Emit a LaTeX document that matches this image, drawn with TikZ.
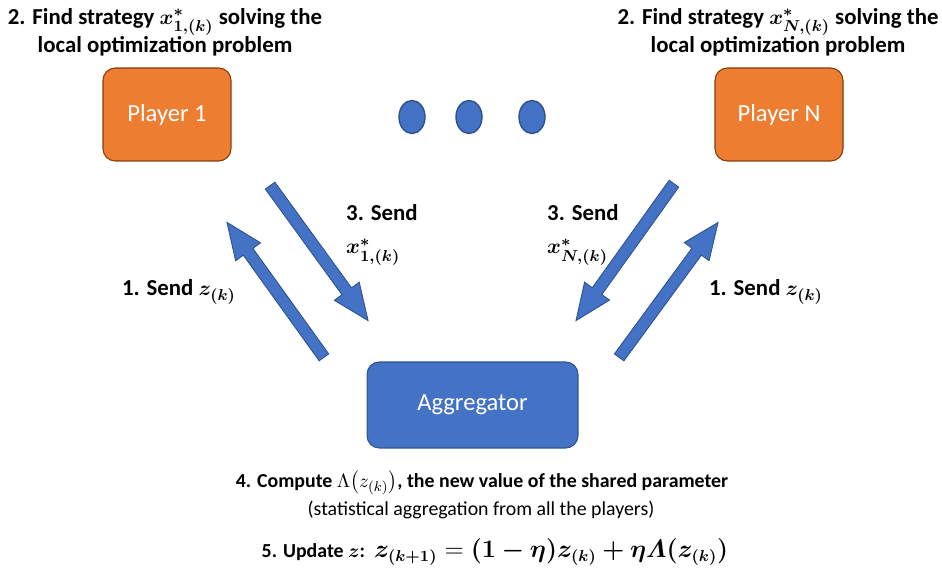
\documentclass[tikz,border=0pt]{standalone}
\usepackage{amsmath}
\usepackage{bm}
\usepackage{xcolor}
\usepackage{fontspec}
\setmainfont{Carlito}
\usetikzlibrary{shapes.geometric,shapes.arrows,calc}
\definecolor{playerfill}{HTML}{ED7D31}
\definecolor{playerline}{HTML}{843C0C}
\definecolor{aggfill}{HTML}{4472C4}
\definecolor{aggline}{HTML}{2F528F}

\begin{document}
\begin{tikzpicture}[x=0.02cm, y=-0.02cm,
              player/.style = {draw=playerline, fill=playerfill, line width=0.6pt, rounded corners=7pt,
                               minimum width=2.56cm, minimum height=1.86cm, text=white,
                               font=\fontsize{14}{17}\selectfont},
              aggbox/.style = {draw=aggline, fill=aggfill, line width=0.6pt, rounded corners=7pt,
                               minimum width=4.22cm, minimum height=1.72cm, text=white,
                               font=\fontsize{14}{17}\selectfont},
              dot/.style = {ellipse, draw=aggline, fill=aggfill, line width=0.8pt,
                            minimum width=0.52cm, minimum height=0.66cm, inner sep=0pt},
              blockarrow/.style = {single arrow, draw=aggline, fill=aggfill, line width=0.5pt,
                                   inner xsep=0pt, inner ysep=3.1pt, single arrow head extend=5.4pt,
                                   single arrow tip angle=46, single arrow head indent=0pt},
              steplabel/.style = {font=\bfseries\fontsize{13}{16}\selectfont, align=center},
              sendlabel/.style = {font=\bfseries\fontsize{13}{19}\selectfont, align=left, anchor=west},
              note/.style = {font=\fontsize{11.3}{14}\selectfont, align=center}]
  \useasboundingbox (0,0) rectangle (942,580);

  \node[steplabel] (find1) at (165,32) {2. Find strategy $\bm{x^{*}_{1,(k)}}$ solving the\\local optimization problem};
  \node[steplabel] (findN) at (778,32) {2. Find strategy $\bm{x^{*}_{N,(k)}}$ solving the\\local optimization problem};

  \node[player] (p1) at (167,114.5) {Player 1};
  \node[player] (pN) at (779,114.5) {Player N};

  \node[dot] (d1) at (412,117) {};
  \node[dot] (d2) at (469,117) {};
  \node[dot] (d3) at (532,117) {};

  \node[aggbox] (agg) at (472.5,405) {Aggregator};

  \coordinate (a1s) at (266,180);
  \coordinate (a1e) at (364,315);
  \coordinate (b1s) at (328,363);
  \coordinate (b1e) at (231,228);
  \coordinate (aNs) at (678,178);
  \coordinate (aNe) at (580,315);
  \coordinate (bNs) at (615,363);
  \coordinate (bNe) at (714,228);

  \foreach \s/\e in {a1s/a1e, b1s/b1e, aNs/aNe, bNs/bNe}
    \path let \p1 = ($(\e)-(\s)$), \n1 = {veclen(\x1,\y1)}, \n2 = {atan2(\y1,\x1)} in
      node[blockarrow, minimum height=\n1, rotate=\n2] at ($(\s)!0.5!(\e)$) {};

  \node[sendlabel] (send1) at (340,235) {3. Send\\$\bm{x^{*}_{1,(k)}}$};
  \node[sendlabel] (sendN) at (541,235) {3. Send\\$\bm{x^{*}_{N,(k)}}$};
  \node[steplabel] (z1) at (179,292) {1. Send $\bm{z_{(k)}}$};
  \node[steplabel] (zN) at (766,292) {1. Send $\bm{z_{(k)}}$};

  \node[note, font=\bfseries\fontsize{11.3}{14}\selectfont] (comp) at (482,483) {4. Compute $\Lambda\bigl(z_{(k)}\bigr)$, the new value of the shared parameter};
  \node[note] (stat) at (481,510) {(statistical aggregation from all the players)};
  \node[note] (upd) at (495,552) {\textbf{5. Update $\bm{z}$:}\ \ {\fontsize{13.5}{17}\selectfont$\bm{z_{(k+1)}} = \bm{(1-\eta)z_{(k)}+\eta\varLambda(z_{(k)})}$}};
\end{tikzpicture}
\end{document}
